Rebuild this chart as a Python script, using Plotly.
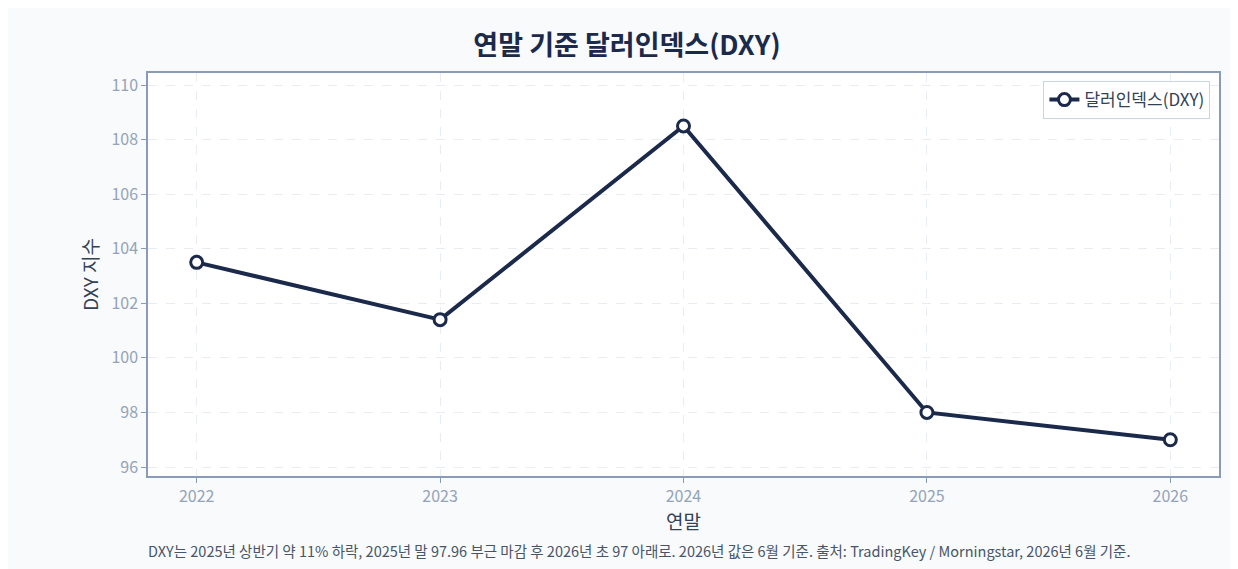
import plotly.graph_objects as go

years = [2022, 2023, 2024, 2025, 2026]
dxy = [103.5, 101.4, 108.5, 98.0, 97.0]
y_ticks = [96, 98, 100, 102, 104, 106, 108, 110]

navy = "#1b2a4a"
font = "Noto Sans CJK KR, Noto Sans, sans-serif"

fig = go.Figure()
fig.add_trace(go.Scatter(
    x=years, y=dxy, mode="lines+markers", name="달러인덱스(DXY)",
    line=dict(color=navy, width=4),
    marker=dict(size=12, color="white", line=dict(color=navy, width=3)),
))

fig.update_layout(
    width=1238, height=569,
    paper_bgcolor="#f8fafc", plot_bgcolor="white",
    font=dict(family=font, color="#334155"),
    title=dict(text="<b>연말 기준 달러인덱스(DXY)</b>", x=0.5, y=0.95,
               font=dict(size=27, color=navy)),
    margin=dict(l=140, r=27, t=65, b=101),
    showlegend=True,
    legend=dict(x=0.992, y=0.98, xanchor="right", yanchor="top",
                bgcolor="white", bordercolor="#cbd5e1", borderwidth=1,
                font=dict(size=17, color="#334155")),
)
fig.update_xaxes(
    range=[2021.8, 2026.2], tickvals=years, ticktext=[str(y) for y in years],
    title=dict(text="연말", font=dict(size=19), standoff=6),
    tickfont=dict(size=16, color="#94a3b8"),
    showgrid=True, gridcolor="#e8edf3", griddash="dash",
    showline=True, linecolor="#8a9bb5", linewidth=1.5, mirror=True,
    ticks="outside", tickcolor="#8a9bb5", ticklen=5, zeroline=False,
)
fig.update_yaxes(
    range=[95.67, 110.44], tickvals=y_ticks,
    title=dict(text="DXY 지수", font=dict(size=19), standoff=8),
    tickfont=dict(size=16, color="#94a3b8"),
    showgrid=True, gridcolor="#e8edf3", griddash="dash",
    showline=True, linecolor="#8a9bb5", linewidth=1.5, mirror=True,
    ticks="outside", tickcolor="#8a9bb5", ticklen=5, zeroline=False,
)
fig.add_annotation(
    text="DXY는 2025년 상반기 약 11% 하락, 2025년 말 97.96 부근 마감 후 2026년 초 97 아래로. 2026년 값은 6월 기준. 출처: TradingKey / Morningstar, 2026년 6월 기준.",
    xref="paper", yref="paper", x=0.5, y=-0.185, xanchor="center", yanchor="middle",
    xshift=-45, showarrow=False, font=dict(size=14.5, color="#475569"),
)

fig.write_html("out.html")
